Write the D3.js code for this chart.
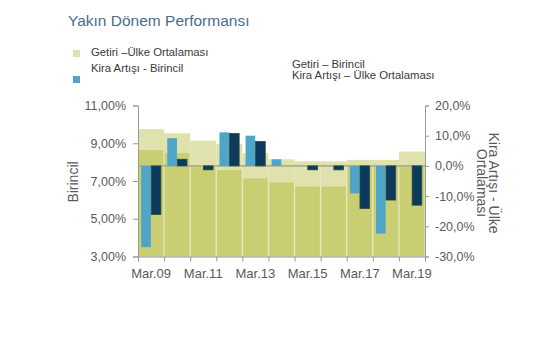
<!DOCTYPE html>
<html>
<head>
<meta charset="utf-8">
<script src="https://cdn.jsdelivr.net/npm/d3@7/dist/d3.min.js"></script>
<style>
  html, body { margin: 0; padding: 0; background: #ffffff; }
  svg { display: block; font-family: "Liberation Sans", Arial, sans-serif; }
</style>
</head>
<body>
<svg id="chart" width="555" height="355"></svg>
<script>
// ---- Data ----
const categories = ["Mar.09","Mar.10","Mar.11","Mar.12","Mar.13","Mar.14","Mar.15","Mar.16","Mar.17","Mar.18","Mar.19"];
const shownLabels = ["Mar.09","Mar.11","Mar.13","Mar.15","Mar.17","Mar.19"];
// Yields (left axis, %)
const getiriUlke     = [9.75, 9.53, 9.14, 8.95, 8.47, 8.15, 8.04, 8.04, 8.12, 8.12, 8.56];
const getiriBirincil = [8.64, 8.47, 7.82, 7.58, 7.14, 6.92, 6.71, 6.71, 7.80, 7.80, 7.80];
// Rent growth (right axis, %)
const kiraBirincil   = [-26.9, 9.2, 0, 11.1, 10.0, 2.2, 0, 0, -9.1, -22.4, 0];
const kiraUlke       = [-16.1, 2.2, -1.3, 10.7, 8.1, 0, -1.3, -1.3, -14.1, -11.3, -13.0];
const leftTicks  = [3, 5, 7, 9, 11];
const rightTicks = [-30, -20, -10, 0, 10, 20];

// ---- Layout ----
const svg = d3.select("#chart");
const L = 138, R = 425, T = 105.5, B = 256.5;

const x = d3.scaleBand().domain(categories).range([L, R]).padding(0);
const xEdge = d3.scaleLinear().domain([0, categories.length]).range([L, R]);
const xSub = d3.scaleBand().domain(["b", "u"]).range([0, x.bandwidth()]).paddingInner(0.04).paddingOuter(0.32);
const yL = d3.scaleLinear().domain([3, 11]).range([B, T]);
const yR = d3.scaleLinear().domain([-30, 20]).range([B, T]);

const cLight = "#dfe2ac", cOlive = "#c9ce72", cSep = "#e6e8c2";
const cBlue = "#4ea5c8", cNavy = "#0c3a5c";

// light yield bars (behind)
svg.append("g").selectAll("rect").data(categories).join("rect")
  .attr("x", d => x(d)).attr("width", x.bandwidth())
  .attr("y", (d, i) => yL(getiriUlke[i]))
  .attr("height", (d, i) => yL(3) - yL(getiriUlke[i]))
  .attr("fill", cLight);

// olive yield bars
svg.append("g").selectAll("rect").data(categories).join("rect")
  .attr("x", d => x(d) + 0.8).attr("width", x.bandwidth() - 1.6)
  .attr("y", (d, i) => yL(getiriBirincil[i]))
  .attr("height", (d, i) => yL(3) - yL(getiriBirincil[i]))
  .attr("fill", cOlive);

// zero line of rent growth axis
svg.append("line")
  .attr("x1", L).attr("x2", R).attr("y1", yR(0)).attr("y2", yR(0))
  .attr("stroke", "#aeae92").attr("stroke-width", 1.8);

// rent growth bars
function rentBars(vals, key, fill, stroke) {
  svg.append("g").selectAll("rect").data(categories).join("rect")
    .attr("x", d => x(d) + xSub(key)).attr("width", xSub.bandwidth())
    .attr("y", (d, i) => Math.min(yR(vals[i]), yR(0)))
    .attr("height", (d, i) => Math.abs(yR(vals[i]) - yR(0)))
    .attr("fill", fill)
    .attr("stroke", stroke).attr("stroke-width", vals === kiraUlke ? 0.8 : 0)
    .attr("display", (d, i) => vals[i] === 0 ? "none" : null);
}
rentBars(kiraBirincil, "b", cBlue, "none");
rentBars(kiraUlke, "u", cNavy, "#2b4a3c");

// ---- Axes ----
const axisColor = "#9a9a9a", textColor = "#5a5a5a";
function styleAxis(g, fs) {
  g.select(".domain").attr("stroke", axisColor);
  g.selectAll(".tick line").attr("stroke", axisColor);
  g.selectAll(".tick text").attr("fill", textColor).attr("font-size", fs)
    .attr("font-family", "'Liberation Sans', Arial, sans-serif");
}

const gL = svg.append("g").attr("transform", `translate(${L},0)`)
  .call(d3.axisLeft(yL).tickValues(leftTicks).tickSize(5).tickPadding(7)
    .tickFormat(d => d.toFixed(2).replace(".", ",") + "%"));
styleAxis(gL, 12.5);

const gR = svg.append("g").attr("transform", `translate(${R},0)`)
  .call(d3.axisRight(yR).tickValues(rightTicks).tickSize(4).tickPadding(6)
    .tickFormat(d => d.toFixed(1).replace(".", ",") + "%"));
styleAxis(gR, 12.5);

const gB = svg.append("g").attr("transform", `translate(0,${B})`)
  .call(d3.axisBottom(xEdge).tickValues(d3.range(0, categories.length + 1)).tickSize(5).tickFormat(""));
styleAxis(gB, 13);

const gBL = svg.append("g").attr("transform", `translate(0,${B})`)
  .call(d3.axisBottom(x).tickSize(0).tickPadding(12)
    .tickFormat(d => shownLabels.includes(d) ? d : ""));
gBL.select(".domain").remove();
styleAxis(gBL, 13);

// axis titles
svg.append("text")
  .attr("transform", `translate(78,182) rotate(-90)`)
  .attr("text-anchor", "middle").attr("font-size", 14).attr("fill", textColor)
  .text("Birincil");

const rt = svg.append("text")
  .attr("transform", `translate(489,183) rotate(90)`)
  .attr("text-anchor", "middle").attr("font-size", 14).attr("fill", textColor);
rt.append("tspan").attr("x", 0).attr("dy", 0).text("Kira Artışı - Ülke");
rt.append("tspan").attr("x", 0).attr("dy", 12).text("Ortalaması");

// ---- Title & legend ----
svg.append("text").attr("x", 68).attr("y", 26)
  .attr("font-size", 15.5).attr("fill", "#4a6c8c")
  .text("Yakın Dönem Performansı");

const legendText = "#3a3a3a";
svg.append("rect").attr("x", 73).attr("y", 50).attr("width", 7).attr("height", 7).attr("fill", cLight);
svg.append("text").attr("x", 91).attr("y", 55.5).attr("font-size", 11.3).attr("fill", legendText)
  .text("Getiri –Ülke Ortalaması");
svg.append("rect").attr("x", 73).attr("y", 76).attr("width", 7).attr("height", 7).attr("fill", cBlue);
svg.append("text").attr("x", 91).attr("y", 72).attr("font-size", 11.3).attr("fill", legendText)
  .text("Kira Artışı - Birincil");

svg.append("text").attr("x", 292).attr("y", 68.3).attr("font-size", 11.3).attr("fill", legendText)
  .text("Getiri – Birincil");
svg.append("text").attr("x", 292).attr("y", 79).attr("font-size", 11.3).attr("fill", legendText)
  .text("Kira Artışı – Ülke Ortalaması");
</script>
</body>
</html>
